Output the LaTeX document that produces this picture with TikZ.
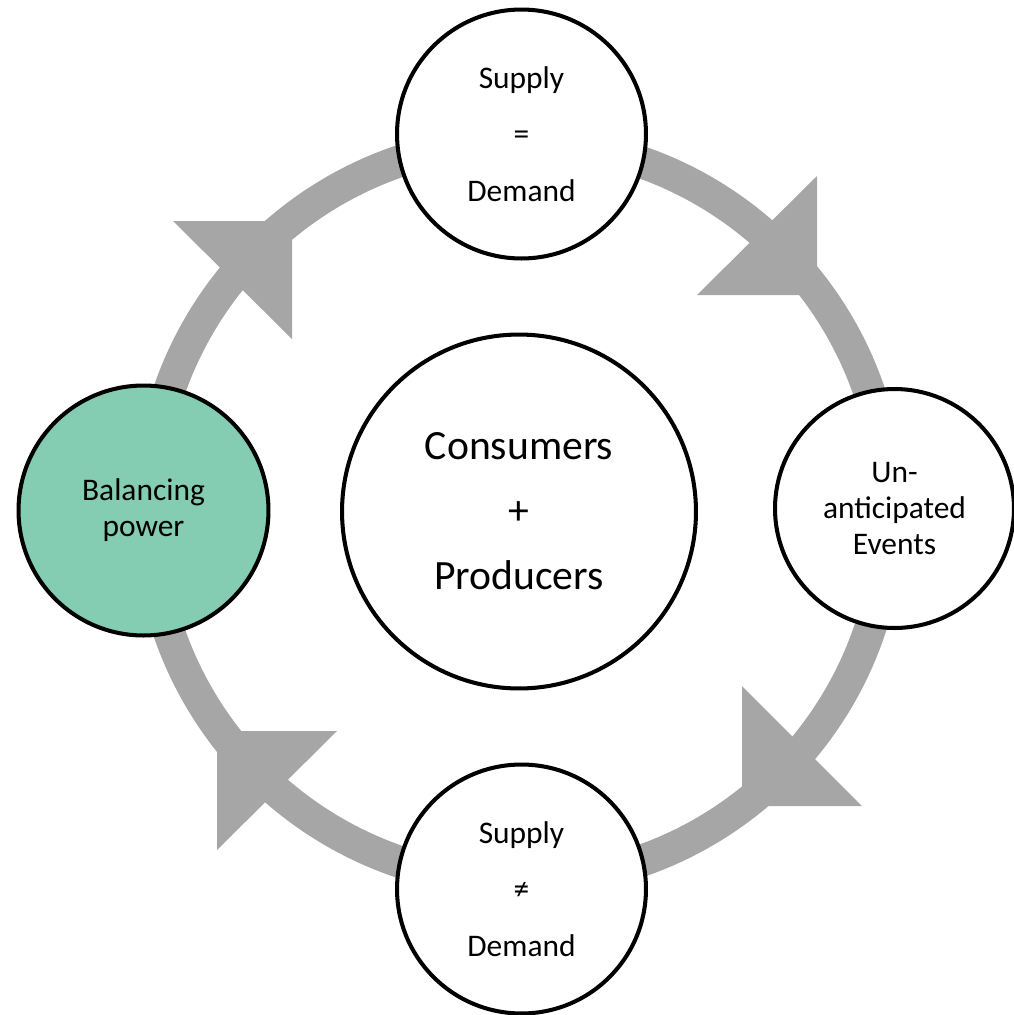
\documentclass[tikz,border=0pt]{standalone}
\usepackage{fontspec}
\setmainfont{Carlito}

\definecolor{ringgray}{RGB}{166,166,166}
\definecolor{balancegreen}{RGB}{132,204,178}

\begin{document}
\begin{tikzpicture}[x=0.02cm,y=0.02cm,
	state/.style={circle,draw=black,line width=2.3pt,fill=white,inner sep=0pt,align=center,font=\fontsize{17.9}{20.5}\selectfont},
	eqstate/.style={state,font=\fontsize{17.9}{32.2}\selectfont},
	arrowhead/.style={fill=ringgray}]
	\useasboundingbox (0,0) rectangle (1014,-1015);

	\coordinate (hub) at (519,-511.5);
	\draw[ringgray,line width=0.64cm] (hub) circle (370);

	\fill[arrowhead] (817,-176) -- (697,-295) -- (817,-295) -- cycle;
	\fill[arrowhead] (742,-686) -- (862,-806) -- (742,-806) -- cycle;
	\fill[arrowhead] (337,-731) -- (217,-850) -- (217,-731) -- cycle;
	\fill[arrowhead] (173,-221) -- (292,-339) -- (292,-221) -- cycle;

	\node[state,minimum size=7.08cm,font=\fontsize{23.7}{37}\selectfont] (market) at (hub) {Consumers\\+\\Producers};
	\node[eqstate,minimum size=4.98cm] (equal) at (521.5,-134) {Supply\\=\\Demand};
	\node[state,minimum size=4.78cm] (events) at (894.5,-508.5) {Un-\\anticipated\\Events};
	\node[eqstate,minimum size=4.98cm] (unequal) at (521.5,-889) {Supply\\≠\\Demand};
	\node[state,minimum size=5.0cm,fill=balancegreen] (balance) at (143.5,-510.5) {Balancing\\power};
\end{tikzpicture}
\end{document}
